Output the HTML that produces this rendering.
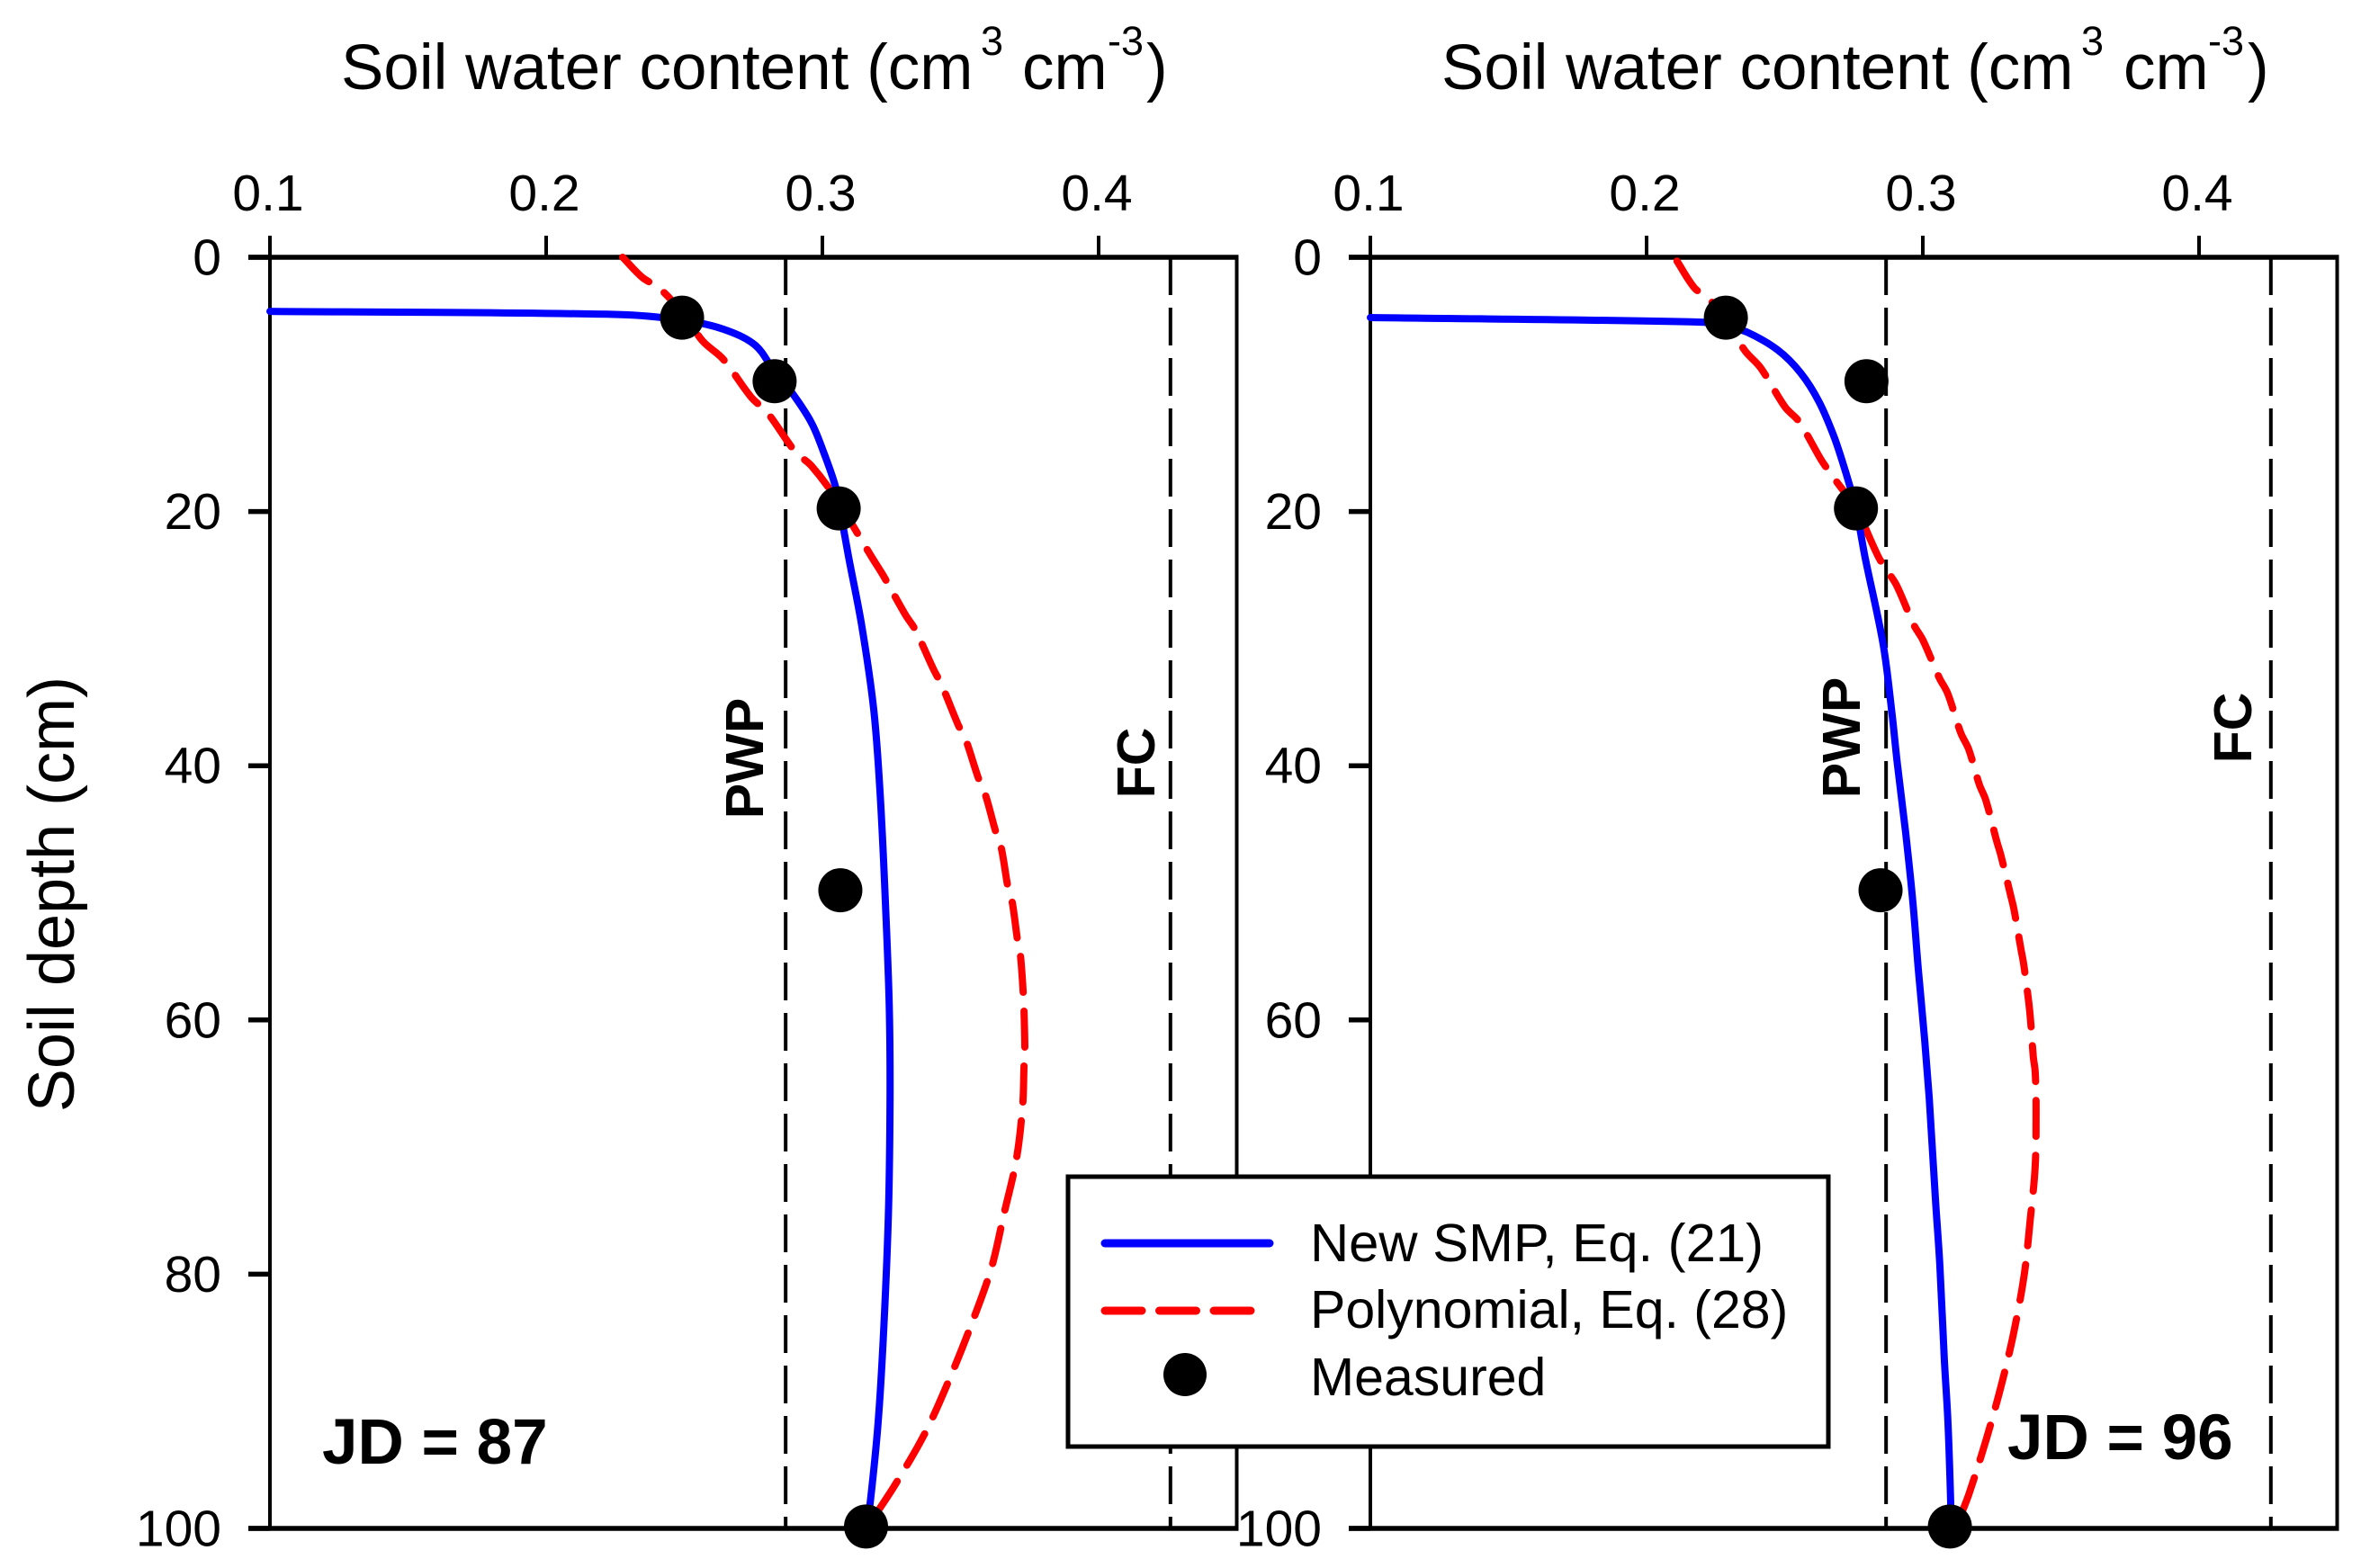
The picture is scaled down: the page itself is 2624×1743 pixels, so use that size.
<!DOCTYPE html>
<html lang="en">
<head>
<meta charset="utf-8">
<title>Soil water content profiles</title>
<style>
html,body{margin:0;padding:0;background:#fff;}
svg{display:block;}
text{font-family:"Liberation Sans",Arial,sans-serif;fill:#000;}
.b{font-weight:bold;}
</style>
</head>
<body>
<svg id="chart" xmlns="http://www.w3.org/2000/svg" width="2624" height="1743" viewBox="0 0 2624 1743">
  <rect x="0" y="0" width="2624" height="1743" fill="#fff"/>
  <g id="panels"></g>

  <g>
    <text x="379" y="99" font-size="71">Soil water content (cm</text>
    <text x="1090" y="61" font-size="45">3</text>
    <text x="1136" y="99" font-size="71">cm</text>
    <text x="1231" y="61" font-size="45">-3</text>
    <text x="1274" y="99" font-size="71">)</text>
  </g>
  <g>
    <text x="1602" y="99" font-size="71">Soil water content (cm</text>
    <text x="2313" y="61" font-size="45">3</text>
    <text x="2360" y="99" font-size="71">cm</text>
    <text x="2454" y="61" font-size="45">-3</text>
    <text x="2498" y="99" font-size="71">)</text>
  </g>
  <text transform="translate(82 994) rotate(-90)" text-anchor="middle" font-size="72">Soil depth (cm)</text>

  <text class="b" transform="translate(848 843) rotate(-90)" text-anchor="middle" font-size="59">PWP</text>
  <text class="b" transform="translate(1283 848) rotate(-90)" text-anchor="middle" font-size="59">FC</text>
  <text class="b" transform="translate(2067 820) rotate(-90)" text-anchor="middle" font-size="59">PWP</text>
  <text class="b" transform="translate(2502 809) rotate(-90)" text-anchor="middle" font-size="59">FC</text>

  <text class="b" x="358" y="1627" font-size="71">JD = 87</text>
  <text class="b" x="2231" y="1622" font-size="71">JD = 96</text>

  <g>
    <rect x="1187" y="1308" width="845" height="300" fill="#fff" stroke="#000" stroke-width="5"/>
    <line x1="1228" y1="1382" x2="1411" y2="1382" stroke="#0000ff" stroke-width="9" stroke-linecap="round"/>
    <line x1="1228" y1="1457" x2="1392" y2="1457" stroke="#ff0000" stroke-width="9" stroke-linecap="round" stroke-dasharray="41 19.5"/>
    <circle cx="1317" cy="1528" r="24" fill="#000"/>
    <text x="1456" y="1402" font-size="59" textLength="504" lengthAdjust="spacingAndGlyphs">New SMP, Eq. (21)</text>
    <text x="1456" y="1476" font-size="59">Polynomial, Eq. (28)</text>
    <text x="1456" y="1551" font-size="59">Measured</text>
  </g>
</svg>
<script>
// ---- axis labels
const xTickValues = [0.1, 0.2, 0.3, 0.4];
const xTickLabels = ['0.1', '0.2', '0.3', '0.4'];
const yTickValues = [0, 20, 40, 60, 80, 100];
const yTickLabels = ['0', '20', '40', '60', '80', '100'];
const xDomainMin = 0.1;
const xDomainMax = 0.45;
const pwpValue = 0.2867;
const fcValue = 0.426;

// ---- measured points
const measuredDepths = [4.75, 9.75, 19.75, 49.8, 99.85];
const measuredJD87 = [0.2492, 0.2827, 0.3059, 0.3065, 0.3158];
const measuredJD96 = [0.2287, 0.2796, 0.2758, 0.2847, 0.3098];

// ---- JD 87 New SMP
const smpDepthJD87 = [4.25, 4.5, 4.95, 5.65, 6.9, 9, 10.5, 13, 15.3, 18, 20, 23.6, 29.05, 35.8, 42.6, 50.7, 58.9, 66, 75.2, 84.3, 91.6, 98, 100];
const smpThetaJD87 = [0.1, 0.226, 0.2495, 0.264, 0.2756, 0.2827, 0.2885, 0.296, 0.3004, 0.3047, 0.3065, 0.3095, 0.3143, 0.3187, 0.321, 0.3228, 0.3242, 0.3245, 0.3239, 0.3222, 0.3202, 0.3173, 0.3158];

// ---- JD 87 Polynomial
const polyDepthJD87 = [0, 1.6, 2.4, 4.4, 6.6, 8, 11, 12.2, 15.3, 16.4, 18.9, 23.6, 25.1, 28.1, 29.3, 32.4, 33.7, 36.8, 37.9, 41, 42.2, 45.3, 46.4, 49.7, 50.7, 53.8, 54.9, 58.2, 59.3, 62.5, 63.6, 66.7, 71, 75.2, 79.5, 83.8, 88.1, 92.4, 96.5, 99];
const polyThetaJD87 = [0.2277, 0.2349, 0.2408, 0.2495, 0.2567, 0.264, 0.2742, 0.28, 0.2902, 0.296, 0.3047, 0.3179, 0.3222, 0.33, 0.3336, 0.3402, 0.3433, 0.3492, 0.3518, 0.3565, 0.3589, 0.3629, 0.3647, 0.3673, 0.3687, 0.3707, 0.3717, 0.3728, 0.373, 0.3733, 0.373, 0.3725, 0.3702, 0.3658, 0.3612, 0.3542, 0.3463, 0.3374, 0.3265, 0.319];

// ---- JD 96 New SMP
const smpDepthJD96 = [4.74, 5.1, 5.4, 5.9, 7.3, 9.1, 11.4, 14.2, 17, 19.8, 23.6, 30.4, 35.8, 39.9, 45.3, 50.7, 56.1, 61.6, 66.1, 74.5, 79.4, 86.7, 91.6, 98, 100];
const smpThetaJD96 = [0.1, 0.2198, 0.2287, 0.2365, 0.2475, 0.2558, 0.2625, 0.268, 0.2722, 0.2758, 0.2791, 0.2856, 0.2888, 0.2908, 0.2938, 0.2964, 0.2984, 0.3007, 0.3023, 0.3047, 0.3062, 0.3078, 0.3091, 0.3101, 0.3103];

// ---- JD 96 Polynomial
const polyDepthJD96 = [0.3, 2.4, 3.3, 5, 7.4, 8.7, 11.8, 12.9, 16, 17.3, 19.8, 23.6, 24.6, 25.8, 28.9, 30.1, 33.1, 34.3, 37.4, 38.7, 41.5, 42.7, 45.9, 47, 50.2, 51.3, 54.4, 55.6, 58.7, 60, 62.9, 64.1, 67.1, 71.5, 75.7, 79.9, 84.3, 88.5, 92.9, 97.3, 99];
const polyThetaJD96 = [0.211, 0.2173, 0.2227, 0.2287, 0.2358, 0.2413, 0.2502, 0.2551, 0.2634, 0.2676, 0.2758, 0.284, 0.2869, 0.2905, 0.2967, 0.3, 0.306, 0.309, 0.3137, 0.3166, 0.3205, 0.3228, 0.3267, 0.3282, 0.3318, 0.333, 0.3355, 0.3365, 0.3384, 0.339, 0.34, 0.3407, 0.341, 0.3407, 0.3389, 0.3368, 0.3332, 0.3287, 0.3231, 0.3167, 0.3137];

// ---- axis functions
const SVGNS = 'http://www.w3.org/2000/svg';
const plotTop = 286;
const plotBottom = 1699;
const pxPerUnitX = 3070;

function yScale(depth) {
  return plotTop + (depth / 100) * (plotBottom - plotTop);
}
function xScale(left, theta) {
  return left + (theta - xDomainMin) * pxPerUnitX;
}
function make(tag, attrs, parent) {
  const el = document.createElementNS(SVGNS, tag);
  for (const k in attrs) el.setAttribute(k, attrs[k]);
  parent.appendChild(el);
  return el;
}
function curvePath(left, depths, thetas) {
  const pts = depths.map(function (d, i) { return [xScale(left, thetas[i]), yScale(d)]; });
  let d = 'M' + pts[0][0].toFixed(1) + ' ' + pts[0][1].toFixed(1);
  for (let i = 0; i < pts.length - 1; i++) {
    const p0 = pts[Math.max(i - 1, 0)];
    const p1 = pts[i];
    const p2 = pts[i + 1];
    const p3 = pts[Math.min(i + 2, pts.length - 1)];
    const segLen = Math.hypot(p2[0] - p1[0], p2[1] - p1[1]);
    const d1 = Math.hypot(p2[0] - p0[0], p2[1] - p0[1]) || 1;
    const d2 = Math.hypot(p3[0] - p1[0], p3[1] - p1[1]) || 1;
    const c1x = p1[0] + (p2[0] - p0[0]) / d1 * segLen / 3;
    const c1y = p1[1] + (p2[1] - p0[1]) / d1 * segLen / 3;
    const c2x = p2[0] - (p3[0] - p1[0]) / d2 * segLen / 3;
    const c2y = p2[1] - (p3[1] - p1[1]) / d2 * segLen / 3;
    d += ' C' + c1x.toFixed(1) + ' ' + c1y.toFixed(1) + ' ' + c2x.toFixed(1) + ' ' + c2y.toFixed(1) + ' ' + p2[0].toFixed(1) + ' ' + p2[1].toFixed(1);
  }
  return d;
}

function drawPanel(id, left, smpDepth, smpTheta, polyDepth, polyTheta, measured) {
  const root = document.getElementById('panels');
  const g = make('g', {}, root);
  
  
  const right = xScale(left, xDomainMax);

  // reference lines
  const pwp = make('line', { x1: xScale(left, pwpValue), x2: xScale(left, pwpValue), y1: plotTop, y2: plotBottom, stroke: '#000', 'stroke-width': 4, 'stroke-dasharray': '42 14' }, g);
  
  
  const fc = make('line', { x1: xScale(left, fcValue), x2: xScale(left, fcValue), y1: plotTop, y2: plotBottom, stroke: '#000', 'stroke-width': 4, 'stroke-dasharray': '42 14' }, g);
  
  

  // frame
  const leftAxis = make('line', { x1: left, x2: left, y1: plotTop, y2: plotBottom, stroke: '#000', 'stroke-width': 4 }, g);
  
  
  const rightAxis = make('line', { x1: right, x2: right, y1: plotTop, y2: plotBottom, stroke: '#000', 'stroke-width': 4 }, g);
  
  
  const topAxis = make('line', { x1: left - 24, x2: right + 2, y1: plotTop, y2: plotTop, stroke: '#000', 'stroke-width': 5.5 }, g);
  
  
  const bottomAxis = make('line', { x1: left - 24, x2: right + 2, y1: plotBottom, y2: plotBottom, stroke: '#000', 'stroke-width': 5.5 }, g);
  
  

  // x ticks
  xTickValues.forEach(function (v, i) {
    const t = make('line', { x1: xScale(left, v), x2: xScale(left, v), y1: plotTop - 24, y2: plotTop, stroke: '#000', 'stroke-width': 4 }, g);
    
    
    const lab = make('text', { x: xScale(left, v) - 2, y: 234, 'text-anchor': 'middle', 'font-size': 57 }, g);
    lab.textContent = xTickLabels[i];
    
    
  });

  // y ticks
  yTickValues.forEach(function (v, i) {
    const t = make('line', { x1: left - 24, x2: left, y1: yScale(v), y2: yScale(v), stroke: '#000', 'stroke-width': 5.5 }, g);
    
    
    const lab = make('text', { x: left - 54, y: yScale(v) + 19.5, 'text-anchor': 'end', 'font-size': 57 }, g);
    lab.textContent = yTickLabels[i];
    
    
  });

  // series
  const poly = make('path', { d: curvePath(left, polyDepth, polyTheta), fill: 'none', stroke: '#ff0000', 'stroke-width': 8, 'stroke-linecap': 'round', 'stroke-linejoin': 'round', 'stroke-dasharray': '40 21' }, g);
  
  
  const smp = make('path', { d: curvePath(left, smpDepth, smpTheta), fill: 'none', stroke: '#0000ff', 'stroke-width': 8, 'stroke-linecap': 'round', 'stroke-linejoin': 'round' }, g);
  
  

  measured.forEach(function (v, i) {
    const c = make('circle', { cx: xScale(left, v), cy: yScale(measuredDepths[i]), r: 24.5, fill: '#000' }, g);
    
    
  });
}

drawPanel('jd87', 300, smpDepthJD87, smpThetaJD87, polyDepthJD87, polyThetaJD87, measuredJD87);
drawPanel('jd96', 1523, smpDepthJD96, smpThetaJD96, polyDepthJD96, polyThetaJD96, measuredJD96);
</script>
</body>
</html>
